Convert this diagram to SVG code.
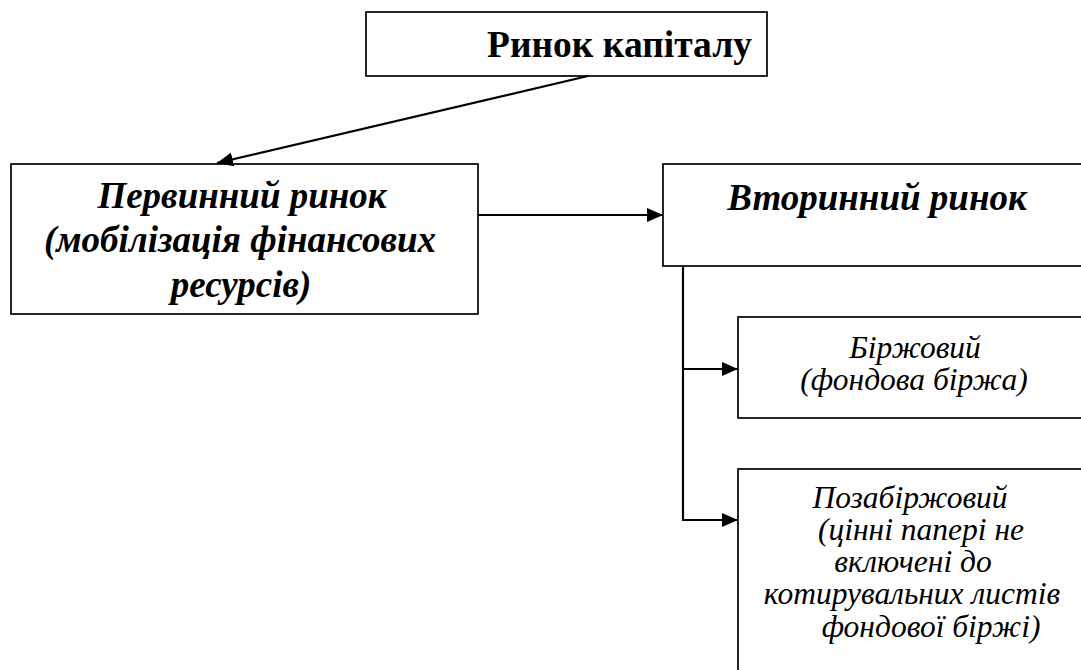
<svg xmlns="http://www.w3.org/2000/svg" width="1081" height="670" viewBox="0 0 1081 670">
<style>
.box{fill:#fff;stroke:#000;stroke-width:1.7}
.ln{fill:none;stroke:#000;stroke-width:2.2}
text{font-family:'Liberation Serif',Tinos,'Times New Roman','DejaVu Serif',serif;fill:#000}
.t1{font-weight:bold;font-size:37.5px}
.t2{font-weight:bold;font-style:italic;font-size:37px;text-anchor:middle}
.t3{font-style:italic;font-size:31.5px;text-anchor:middle}
</style>
<defs>
<marker id="ah" markerWidth="17" markerHeight="14" refX="16" refY="7" orient="auto" markerUnits="userSpaceOnUse">
<path d="M0,0 L16,7 L0,14 Z" fill="#000"/>
</marker>
</defs>
<rect width="1081" height="670" fill="#fff"/>
<g id="n-capital">
<rect class="box" x="366" y="12" width="401" height="64"/>
<text class="t1" x="487" y="57">Ринок капіталу</text>
</g>
<g id="n-primary">
<rect class="box" x="11" y="164" width="467" height="150"/>
<text class="t2" x="242" y="208">Первинний ринок</text>
<text class="t2" x="240" y="252">(мобілізація фінансових</text>
<text class="t2" x="241" y="297">ресурсів)</text>
</g>
<g id="n-secondary">
<rect class="box" x="663" y="164" width="440" height="102"/>
<text class="t2" x="877" y="210">Вторинний ринок</text>
</g>
<g id="n-exchange">
<rect class="box" x="738" y="317" width="360" height="101"/>
<text class="t3" x="915" y="358">Біржовий</text>
<text class="t3" x="914" y="390">(фондова біржа)</text>
</g>
<g id="n-otc">
<rect class="box" x="738" y="469" width="360" height="230"/>
<text class="t3" x="910" y="508">Позабіржовий</text>
<text class="t3" x="921" y="540">(цінні папері не</text>
<text class="t3" x="913" y="572">включені до</text>
<text class="t3" x="912" y="604">котирувальних листів</text>
<text class="t3" x="931" y="637">фондової біржі)</text>
</g>
<g id="connectors">
<line class="ln" x1="588" y1="76" x2="217" y2="163" marker-end="url(#ah)"/>
<line class="ln" x1="478" y1="215" x2="663" y2="215" marker-end="url(#ah)"/>
<polyline class="ln" points="683,266 683,520 738,520" marker-end="url(#ah)"/>
<line class="ln" x1="683" y1="369" x2="738" y2="369" marker-end="url(#ah)"/>
</g>
</svg>
